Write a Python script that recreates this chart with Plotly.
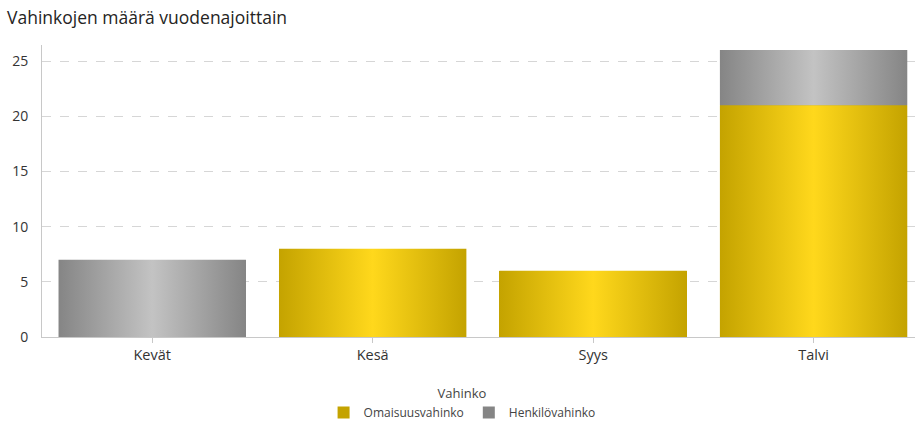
import plotly.graph_objects as go

categories = ["Kevät", "Kesä", "Syys", "Talvi"]
omaisuus = [0, 8, 6, 21]
henkilo = [7, 0, 0, 5]
series_names = ["Omaisuusvahinko", "Henkilövahinko"]
legend_title = "Vahinko"
chart_title = "Vahinkojen määrä vuodenajoittain"
y_ticks = [0, 5, 10, 15, 20, 25]

GOLD_EDGE = "#c4a300"
GOLD_MID = "#ffd81c"
GRAY_EDGE = "#858585"
GRAY_MID = "#c3c3c3"
BAR_W = 0.85
FONT = "Open Sans"

xs = list(range(len(categories)))
fig = go.Figure()

# Base bars (data + legend)
fig.add_trace(go.Bar(x=xs, y=omaisuus, name=series_names[0], width=BAR_W,
                     marker=dict(color=GOLD_EDGE, line=dict(width=0))))
fig.add_trace(go.Bar(x=xs, y=henkilo, name=series_names[1], width=BAR_W,
                     marker=dict(color=GRAY_EDGE, line=dict(width=0))))

# Gradient overlays derived from the same data
def overlay(x, base, val, edge, mid):
    if val <= 0:
        return
    x0, x1 = x - BAR_W / 2, x + BAR_W / 2
    y0, y1 = base, base + val
    fig.add_trace(go.Scatter(
        x=[x0, x1, x1, x0, x0], y=[y0, y0, y1, y1, y0],
        mode="lines", line=dict(width=0), fill="toself",
        fillgradient=dict(type="horizontal",
                          colorscale=[[0, edge], [0.5, mid], [1, edge]]),
        showlegend=False, hoverinfo="skip"))

for i in xs:
    overlay(i, 0, omaisuus[i], GOLD_EDGE, GOLD_MID)
    overlay(i, omaisuus[i], henkilo[i], GRAY_EDGE, GRAY_MID)

fig.update_layout(
    width=915, height=421,
    barmode="stack",
    paper_bgcolor="white", plot_bgcolor="white",
    margin=dict(l=42, r=0, t=45, b=84),
    font=dict(family=FONT, color="#333333"),
    title=dict(text=chart_title, xref="container", yref="container",
               x=7 / 915, xanchor="left", y=1 - 18 / 421, yanchor="middle",
               font=dict(size=17.5, color="#252423", family=FONT)),
    showlegend=True,
    legend=dict(orientation="h", xref="container", yref="container",
                x=0.505, xanchor="center", y=1 - 381 / 421, yanchor="top",
                title=dict(text=legend_title, side="top center",
                           font=dict(size=13, color="#444444")),
                font=dict(size=12, color="#444444"),
                itemwidth=30, traceorder="normal"),
    xaxis=dict(range=[-0.5, 3.46], tickvals=xs, ticktext=categories,
               showgrid=False, zeroline=False,
               showline=True, linecolor="#c8c8c8", linewidth=1,
               ticks="outside", ticklen=5, tickcolor="#c8c8c8",
               tickfont=dict(size=14.5, color="#333333")),
    yaxis=dict(range=[0, 26.45], tickvals=y_ticks,
               showgrid=True, gridcolor="#d6d6d6", griddash="dash", gridwidth=1,
               zeroline=False, showline=True, linecolor="#c8c8c8", linewidth=1,
               ticks="outside", ticklen=10, tickcolor="rgba(0,0,0,0)",
               tickfont=dict(size=14, color="#333333")),
)

fig.write_html("out.html")
